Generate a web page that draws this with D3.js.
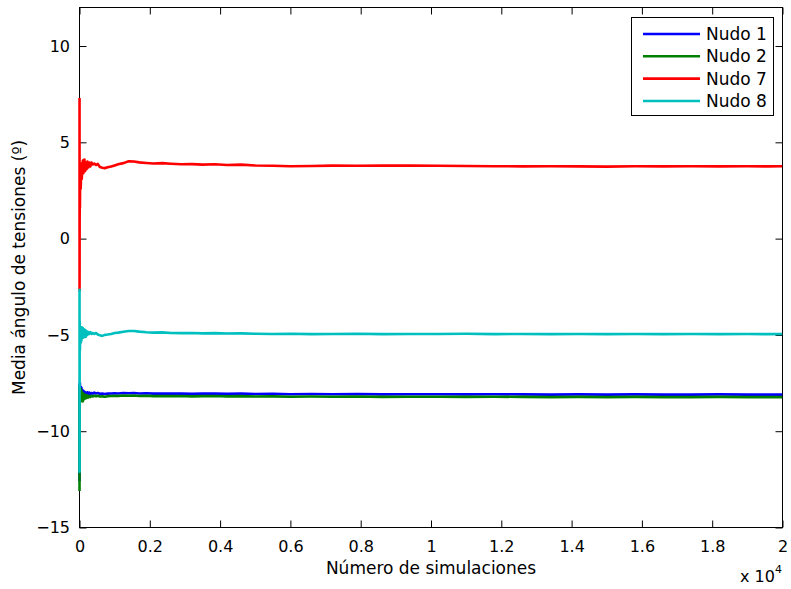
<!DOCTYPE html>
<html>
<head>
<meta charset="utf-8">
<script src="https://cdn.jsdelivr.net/npm/d3@7"></script>
<style>
  html, body { margin: 0; padding: 0; background: #fff; }
  svg text { font-family: "DejaVu Sans", Arial, Helvetica, sans-serif; fill: #000; }
</style>
</head>
<body>
<svg id="chart" width="791" height="589"></svg>
<script>
// Simulation count at which each running mean was recorded
const simulaciones = [1, 2, 4, 7, 12, 18, 25, 35, 45, 55, 65, 80, 95, 110, 125, 140, 160, 180, 200, 225,
  250, 280, 310, 340, 380, 420, 470, 520, 580, 650, 720, 800, 900, 1000, 1100, 1250, 1400, 1550, 1700, 1900,
  2100, 2350, 2600, 2900, 3200, 3500, 3850, 4200, 4600, 5000, 5500, 6000, 6600, 7200, 7900, 8600, 9400, 10200,
  11000, 11800, 12600, 13400, 14200, 15000, 15800, 16600, 17400, 18200, 19000, 19600, 20000];

// Running mean of the voltage angle (degrees) at each bus
const nudo1 = [-12.6, -7.6, -9.5, -8.2, -7.5, -8.3, -7.9, -7.7, -8.0, -7.75, -8.1, -7.85, -8.15, -7.9, -8.1, -7.95, -8.15, -8.0, -8.1, -7.98,
  -8.08, -8.0, -8.06, -8.02, -8.05, -8.0, -8.04, -8.02, -8.06, -8.05, -8.07, -8.05, -8.04, -8.03, -8.04, -8.02, -8.03, -8.02, -8.04, -8.03,
  -8.05, -8.04, -8.05, -8.04, -8.06, -8.05, -8.04, -8.06, -8.05, -8.07, -8.06, -8.08, -8.07, -8.08, -8.07, -8.09, -8.08, -8.08,
  -8.09, -8.08, -8.09, -8.1, -8.09, -8.1, -8.09, -8.1, -8.1, -8.09, -8.1, -8.1, -8.1];

const nudo2 = [-13.1, -7.7, -10.0, -8.6, -7.8, -8.5, -8.0, -7.8, -8.2, -7.9, -8.4, -8.0, -8.45, -8.05, -8.35, -8.1, -8.3, -8.12, -8.28, -8.15,
  -8.25, -8.17, -8.22, -8.16, -8.2, -8.15, -8.19, -8.16, -8.2, -8.19, -8.21, -8.18, -8.17, -8.16, -8.17, -8.15, -8.16, -8.15, -8.17, -8.16,
  -8.18, -8.17, -8.18, -8.17, -8.19, -8.18, -8.17, -8.19, -8.18, -8.2, -8.19, -8.21, -8.2, -8.21, -8.2, -8.22, -8.21, -8.21,
  -8.22, -8.21, -8.22, -8.23, -8.22, -8.23, -8.22, -8.23, -8.23, -8.22, -8.23, -8.23, -8.23];

const nudo7 = [7.3, -2.7, 0.8, 2.2, 1.6, 2.9, 3.3, 2.6, 3.4, 3.9, 3.1, 3.7, 4.05, 3.4, 3.9, 4.1, 3.5, 3.95, 3.6, 4.0,
  3.7, 3.95, 3.75, 3.95, 3.85, 3.9, 3.82, 3.88, 3.72, 3.68, 3.66, 3.7, 3.74, 3.8, 3.86, 3.92, 4.02, 4.0, 3.96, 3.93,
  3.9, 3.92, 3.89, 3.86, 3.87, 3.84, 3.86, 3.82, 3.84, 3.8, 3.78, 3.76, 3.77, 3.79, 3.78, 3.8, 3.79, 3.78,
  3.77, 3.76, 3.75, 3.76, 3.75, 3.74, 3.76, 3.75, 3.76, 3.75, 3.76, 3.75, 3.76];

const nudo8 = [-2.6, -12.1, -6.5, -4.3, -5.8, -5.2, -4.9, -5.4, -4.8, -5.3, -4.6, -5.0, -4.65, -5.15, -4.7, -5.05, -4.75, -5.1, -4.8, -5.0,
  -4.85, -4.95, -4.85, -4.95, -4.9, -4.95, -4.9, -4.98, -5.02, -5.05, -5.0, -4.98, -4.95, -4.9, -4.88, -4.84, -4.8, -4.8, -4.83, -4.86,
  -4.88, -4.87, -4.9, -4.91, -4.9, -4.92, -4.91, -4.93, -4.92, -4.94, -4.95, -4.94, -4.96, -4.95, -4.94, -4.96, -4.95, -4.95,
  -4.94, -4.96, -4.95, -4.96, -4.95, -4.96, -4.95, -4.96, -4.95, -4.96, -4.95, -4.96, -4.95];

const seriesNames = ["Nudo 1", "Nudo 2", "Nudo 7", "Nudo 8"];
const seriesColors = ["#0000ff", "#008000", "#ff0000", "#00bfbf"];
const seriesValues = [nudo1, nudo2, nudo7, nudo8];

const xTicks = [0, 2000, 4000, 6000, 8000, 10000, 12000, 14000, 16000, 18000, 20000];
const xTickLabels = ["0", "0.2", "0.4", "0.6", "0.8", "1", "1.2", "1.4", "1.6", "1.8", "2"];
const yTicks = [-15, -10, -5, 0, 5, 10];

const FONT = "DejaVu Sans, Arial, sans-serif";
const svg = d3.select("#chart");
const pL = 79.5, pR = 782.5, pT = 7.5, pB = 527.5;

const x = d3.scaleLinear().domain([0, 20000]).range([pL, pR]);
const y = d3.scaleLinear().domain([-15, 12]).range([pB, pT]);

svg.append("clipPath").attr("id", "clip")
  .append("rect").attr("x", pL - 2).attr("y", pT).attr("width", pR - pL + 2).attr("height", pB - pT);

const line = d3.line().x((d, i) => x(simulaciones[i])).y(d => y(d));

// Axis frame drawn first so the series sit on top of the left edge
const tickLen = 7;
svg.append("rect").attr("x", pL).attr("y", pT).attr("width", pR - pL).attr("height", pB - pT)
  .attr("fill", "none").attr("stroke", "#000").attr("stroke-width", 1);

const xb = d3.axisBottom(x).tickValues(xTicks).tickSize(-tickLen).tickFormat((d, i) => xTickLabels[i]).tickPadding(13);
const xt = d3.axisTop(x).tickValues(xTicks).tickSize(-tickLen).tickFormat("");
const yl = d3.axisLeft(y).tickValues(yTicks).tickSize(-tickLen).tickPadding(9.5).tickFormat(d => d < 0 ? "\u2212" + Math.abs(d) : String(d));
const yr = d3.axisRight(y).tickValues(yTicks).tickSize(-tickLen).tickFormat("");

function styleAxis(g) {
  g.select(".domain").remove();
  g.selectAll(".tick line").attr("stroke", "#000");
  g.selectAll(".tick text").attr("font-size", 16).attr("font-family", FONT).attr("fill", "#000");
}
svg.append("g").attr("transform", `translate(0,${pB})`).call(xb).call(styleAxis);
svg.append("g").attr("transform", `translate(0,${pT})`).call(xt).call(styleAxis);
svg.append("g").attr("transform", `translate(${pL},0)`).call(yl).call(styleAxis);
svg.append("g").attr("transform", `translate(${pR},0)`).call(yr).call(styleAxis);

// Series
const linesG = svg.append("g").attr("clip-path", "url(#clip)");
seriesValues.forEach((vals, k) => {
  linesG.append("path")
    .datum(vals)
    .attr("d", line)
    .attr("fill", "none")
    .attr("stroke", seriesColors[k])
    .attr("stroke-width", 2.6)
    .attr("stroke-linejoin", "round");
});

// Axis titles
svg.append("text").attr("x", 431).attr("y", 574)
  .attr("text-anchor", "middle").attr("font-size", 17).text("Número de simulaciones");
svg.append("text").attr("transform", `translate(25,${(pT + pB) / 2}) rotate(-90)`)
  .attr("text-anchor", "middle").attr("font-size", 17).text("Media ángulo de tensiones (º)");

// Exponent label for the x axis
const expo = svg.append("text").attr("x", 740).attr("y", 582).attr("font-size", 16);
expo.append("tspan").text("x 10");
expo.append("tspan").attr("dy", -9).attr("font-size", 11).text("4");

// Legend
const lg = svg.append("g");
lg.append("rect").attr("x", 631.5).attr("y", 17.5).attr("width", 142).attr("height", 98)
  .attr("fill", "#fff").attr("stroke", "#000").attr("stroke-width", 1);
const rowY = [34, 56.3, 78.6, 101];
seriesNames.forEach((name, k) => {
  lg.append("line").attr("x1", 643).attr("x2", 700).attr("y1", rowY[k]).attr("y2", rowY[k])
    .attr("stroke", seriesColors[k]).attr("stroke-width", 2.6);
  lg.append("text").attr("x", 706).attr("y", rowY[k] + 6).attr("font-size", 17).text(name);
});
</script>
</body>
</html>
